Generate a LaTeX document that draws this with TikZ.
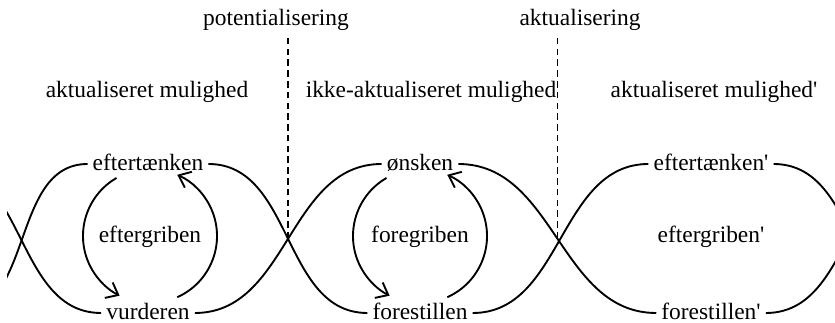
\documentclass[tikz,border=0pt]{standalone}
\usepackage{fontspec}
\setmainfont{Liberation Serif}
\usetikzlibrary{arrows.meta,calc}

\begin{document}
\begin{tikzpicture}[x=0.015cm,y=-0.015cm,
  word/.style={inner sep=2pt, text height=1.5ex, text depth=0.3ex},
  strand/.style={line width=0.8pt},
  loopArrow/.style={line width=0.8pt, -{Straight Barb[length=1.6mm,width=2.6mm]}},
  divider/.style={line width=0.6pt, dash pattern=on 2.8pt off 1.8pt}]

\useasboundingbox (0,0) rectangle (835,323);

\node (pot) [word] at (276,19) {potentialisering};
\node (akt) [word] at (580,19) {aktualisering};

\node (am1) [word] at (147,91) {aktualiseret mulighed};
\node (ikke) [word] at (431,91) {ikke-aktualiseret mulighed};
\node (am2) [word] at (714,91) {aktualiseret mulighed\textquotesingle};

\node (eft1) [word] at (148,164) {eftertænken};
\node (egr1) [word] at (150,236) {eftergriben};
\node (vur) [word] at (148,313) {vurderen};

\node (onsk) [word] at (420,164) {ønsken};
\node (fgr) [word] at (420,236) {foregriben};
\node (fst) [word] at (420,313) {forestillen};

\node (eft2) [word] at (711,164) {eftertænken\textquotesingle};
\node (egr2) [word] at (711,236) {eftergriben\textquotesingle};
\node (fst2) [word] at (711,313) {forestillen\textquotesingle};

% the two strands, cut at both edges
\begin{scope}
\clip (7,0) rectangle (835,323);
\coordinate (lt) at (-43,313);
\coordinate (lb) at (-60,164);
\coordinate (rt) at (933,313);
\coordinate (rb) at (930,164);
\draw[strand] (eft1.west) to[out=180,in=0] (lt);
\draw[strand] (vur.west) to[out=180,in=0] (lb);
\draw[strand] (eft1.east) to[out=0,in=180] (fst.west);
\draw[strand] (vur.east) to[out=0,in=180] (onsk.west);
\draw[strand] (onsk.east) to[out=0,in=180] (fst2.west);
\draw[strand] (fst.east) to[out=0,in=180] (eft2.west);
\draw[strand] (eft2.east) to[out=0,in=180] (rt);
\draw[strand] (fst2.east) to[out=0,in=180] (rb);
\end{scope}

% crossings and dashed borders
\coordinate (x1) at ($(eft1.east)!0.5!(fst.west)$);
\coordinate (x2) at ($(onsk.east)!0.5!(fst2.west)$);
\coordinate (x1top) at (x1 |- 0,37);
\coordinate (x2top) at (x2 |- 0,37);
\draw[divider] (x1) -- (x1top);
\draw[divider] (x2) -- (x2top);

% inner cycles
\draw[loopArrow] ([shift={(240:67)}]egr1.center) arc[start angle=240, end angle=117, radius=67];
\draw[loopArrow] ([shift={(66:67)}]egr1.center) arc[start angle=66, end angle=-66, radius=67];
\draw[loopArrow] ([shift={(240:67)}]fgr.center) arc[start angle=240, end angle=117, radius=67];
\draw[loopArrow] ([shift={(66:67)}]fgr.center) arc[start angle=66, end angle=-66, radius=67];

\end{tikzpicture}
\end{document}
